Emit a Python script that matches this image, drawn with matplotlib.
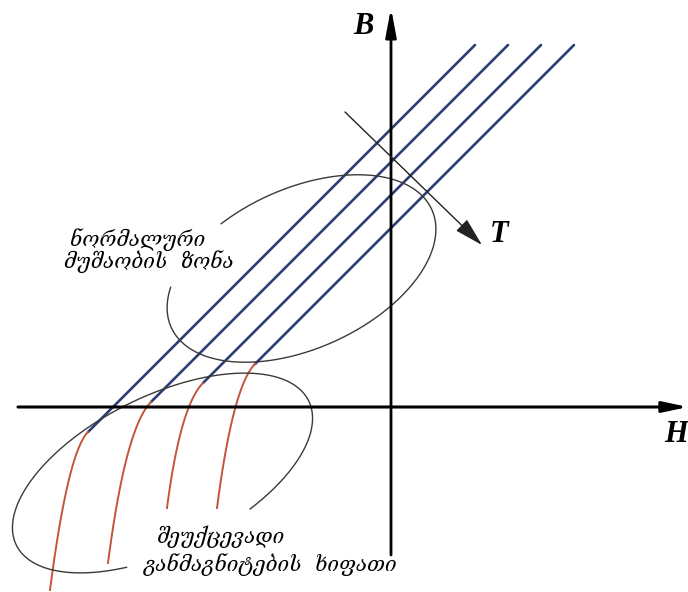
import matplotlib
matplotlib.use("Agg")
import matplotlib.pyplot as plt
import numpy as np

# B = H + offset for each temperature (straight part of the curve)
offsets = [278, 245, 212, 179]
b_top = 362
# where the straight line ends and the knee starts
knee_h = [-303, -240, -188, -136]
# lower ends of the knee curves
end_h = [-341, -283, -224, -174]
end_b = [-183, -156, -101, -101]
steep = 0.13  # dH/dB below the knee

# zones: centre H, centre B, semi axes, tilt, drawn arc (deg of parameter)
zone_normal = dict(h=-89.5, b=138.5, a=143, r=80, tilt=24.35, t0=152.6, t1=472.5)
zone_risk = dict(h=-228.5, b=-66, a=163, r=77, tilt=26.3, t0=-67.4, t1=243.0)

blue = "#2c3e73"
red = "#c4543c"
grey = "#3a3a3a"

fig = plt.figure(figsize=(6.88, 5.92), dpi=100)
ax = fig.add_axes([0, 0, 1, 1])
ax.set_xlim(-391, 297)
ax.set_ylim(-185, 407)
ax.axis("off")

# axes H and B
ax.annotate("", xy=(297, 0), xytext=(-373, 0),
            arrowprops=dict(arrowstyle="-|>,head_length=0.75,head_width=0.16",
                            color="black", lw=2.2,
                            mutation_scale=20, shrinkA=0, shrinkB=0))
ax.annotate("", xy=(0, 399), xytext=(0, -148),
            arrowprops=dict(arrowstyle="-|>,head_length=0.85,head_width=0.16",
                            color="black", lw=2.0,
                            mutation_scale=20, shrinkA=0, shrinkB=0))

for off, hk, he, be in zip(offsets, knee_h, end_h, end_b):
    # straight line
    h = np.array([hk, b_top - off])
    ax.plot(h, h + off, color=blue, lw=1.9, solid_capstyle="round")
    # knee: quadratic bezier between the straight line and the steep tail
    bc = (he - steep * be + off) / (1 - steep)
    hc = bc - off
    p0 = np.array([hk, hk + off])
    p1 = np.array([hc, bc])
    p2 = np.array([he, be])
    t = np.linspace(0, 1, 80)[:, None]
    pts = (1 - t) ** 2 * p0 + 2 * t * (1 - t) * p1 + t ** 2 * p2
    ax.plot(pts[:, 0], pts[:, 1], color=red, lw=1.4)


def zone(z):
    t = np.radians(np.linspace(z["t0"], z["t1"], 300))
    th = np.radians(z["tilt"])
    x = z["a"] * np.cos(t)
    y = z["r"] * np.sin(t)
    ax.plot(z["h"] + x * np.cos(th) - y * np.sin(th),
            z["b"] + x * np.sin(th) + y * np.cos(th), color=grey, lw=1.0)


zone(zone_normal)
zone(zone_risk)

# direction of rising temperature
ax.annotate("", xy=(91, 162), xytext=(-46, 295),
            arrowprops=dict(arrowstyle="-|>,head_length=1.0,head_width=0.27",
                            color="#222222", lw=1.0,
                            mutation_scale=18, shrinkA=0, shrinkB=0))

lab = dict(family="Liberation Serif", weight="bold", style="italic",
           fontsize=22, ha="center", va="center")
ax.text(-28, 381, "B", **lab)
ax.text(108, 173, "T", **lab)
ax.text(285, -28, "H", **lab)

geo = dict(family=["DejaVu Serif", "DejaVu Sans"], style="italic",
           fontsize=14.8, ha="center", va="center")
ax.text(-253, 167, "ნორმალური", **geo)
ax.text(-242, 145, "მუშაობის  ზონა", **geo)
ax.text(-170, -130, "შეუქცევადი", **geo)
ax.text(-120, -158, "განმაგნიტების  ხიფათი", **geo)

fig.savefig("out.png", dpi=100)
